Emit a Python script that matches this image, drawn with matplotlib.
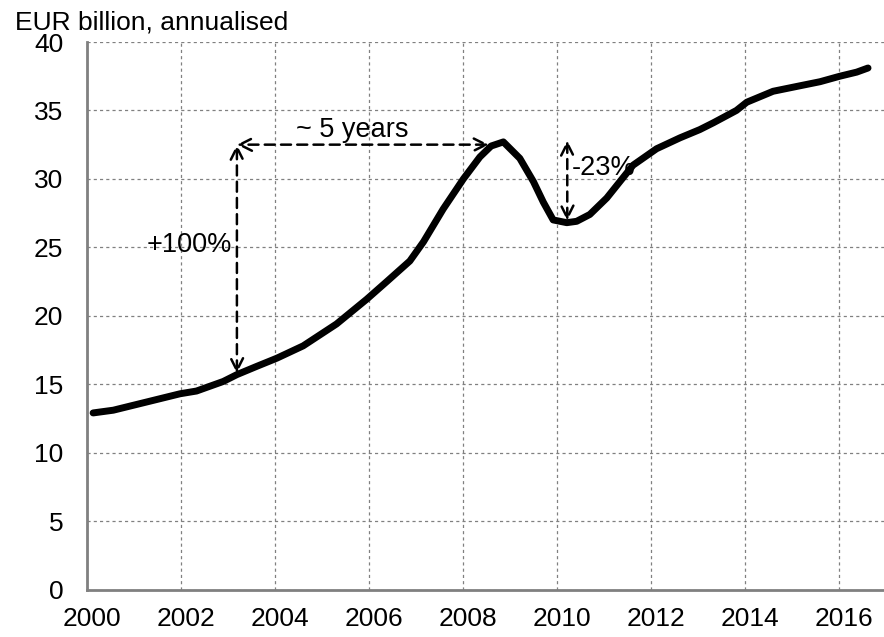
import matplotlib
matplotlib.use("Agg")
import matplotlib.pyplot as plt
import matplotlib.transforms as mtransforms

plt.rcParams['font.family'] = ['Liberation Sans', 'DejaVu Sans']

# Data (time in fractional years, EUR billion annualised)
years = [2000.13, 2000.56, 2001.27, 2001.98, 2002.33, 2002.90, 2003.19, 2003.61,
         2004.04, 2004.60, 2005.31, 2005.95, 2006.38, 2006.87, 2007.16, 2007.58,
         2008.01, 2008.36, 2008.60, 2008.86, 2009.21, 2009.50, 2009.71, 2009.92,
         2010.21, 2010.42, 2010.70, 2011.06, 2011.62, 2012.12, 2012.62, 2013.04,
         2013.33, 2013.82, 2014.04, 2014.60, 2015.17, 2015.60, 2016.02, 2016.38,
         2016.62]
values = [12.9, 13.1, 13.7, 14.3, 14.5, 15.2, 15.7, 16.3,
          16.9, 17.8, 19.4, 21.2, 22.5, 24.0, 25.4, 27.8,
          30.0, 31.6, 32.4, 32.7, 31.5, 29.8, 28.3, 27.0,
          26.8, 26.9, 27.4, 28.6, 31.0, 32.2, 33.0, 33.6,
          34.1, 35.0, 35.6, 36.4, 36.8, 37.1, 37.5, 37.8,
          38.1]

xticks = [2000, 2002, 2004, 2006, 2008, 2010, 2012, 2014, 2016]
yticks = [0, 5, 10, 15, 20, 25, 30, 35, 40]
unit_label = "EUR billion, annualised"

fig = plt.figure(figsize=(8.84, 6.37), dpi=100)
ax = fig.add_axes([87/884, (637-589.5)/637, 1 - 87/884, (589.5-42)/637])

ax.plot(years, values, color='black', lw=5, solid_capstyle='round',
        solid_joinstyle='round', zorder=3)

ax.set_xlim(2000, 2016.96)
ax.set_ylim(0, 40)
ax.set_xticks(xticks)
ax.set_xticklabels([str(t) for t in xticks])
ax.set_yticks(yticks)
ax.tick_params(axis='both', length=0, labelsize=19, colors='black')
ax.tick_params(axis='x', pad=12.5)
ax.tick_params(axis='y', pad=17)

offset = mtransforms.ScaledTranslation(5/100, 0, fig.dpi_scale_trans)
for lab in ax.get_xticklabels():
    lab.set_transform(lab.get_transform() + offset)

ax.grid(True, color='#808080', linestyle=(0, (2.5, 2.5)), lw=0.9)
for s in ['top', 'right']:
    ax.spines[s].set_visible(False)
for s in ['left', 'bottom']:
    ax.spines[s].set_color('#808080')
    ax.spines[s].set_linewidth(2)
    ax.spines[s].set_zorder(4)

# annotations
arrow_kw = dict(arrowstyle='<->', color='black', lw=1.8, linestyle=(0, (4, 2.5)),
                mutation_scale=22, shrinkA=0, shrinkB=0)
ax.annotate('', xy=(2003.19, 32.5), xytext=(2003.19, 15.8), arrowprops=arrow_kw, zorder=5)
ax.annotate('', xy=(2003.19, 32.5), xytext=(2008.55, 32.5), arrowprops=arrow_kw, zorder=5)
ax.annotate('', xy=(2010.22, 32.8), xytext=(2010.22, 26.95), arrowprops=arrow_kw, zorder=5)

ax.text(2005.64, 33.6, '~ 5 years', ha='center', va='center', fontsize=19.5, zorder=6)
ax.text(2003.09, 25.2, '+100%', ha='right', va='center', fontsize=19.5, zorder=6)
ax.text(2010.31, 30.8, '-23%', ha='left', va='center', fontsize=19.5, zorder=6)

fig.text(15/884, 1 - 22.5/637, unit_label, ha='left', va='center', fontsize=19)

fig.savefig('out.png', dpi=100)
